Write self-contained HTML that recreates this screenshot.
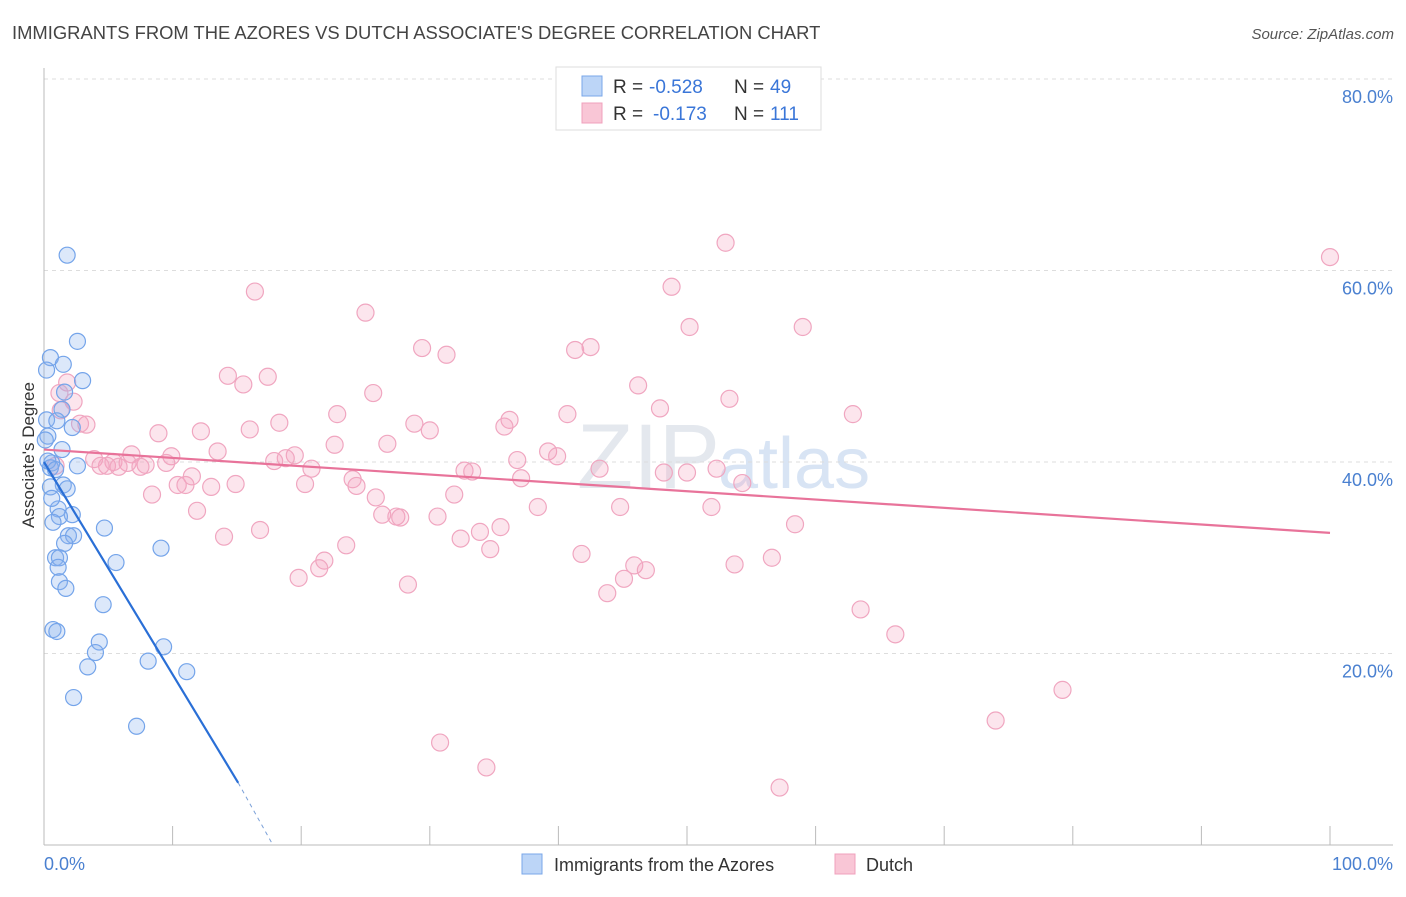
<!DOCTYPE html>
<html><head><meta charset="utf-8"><style>
body{margin:0;background:#fff;font-family:"Liberation Sans",sans-serif;}
svg text{font-family:"Liberation Sans",sans-serif;}
</style></head><body>
<svg id="chart" width="1406" height="892">
<text x="12" y="39" font-size="18.4" fill="#444">IMMIGRANTS FROM THE AZORES VS DUTCH ASSOCIATE'S DEGREE CORRELATION CHART</text>
<text x="1394" y="39" font-size="15" fill="#555" font-style="italic" text-anchor="end">Source: ZipAtlas.com</text>
<text x="720" y="488" font-size="92" fill="#e4e8ee" text-anchor="end" font-family="Liberation Serif">ZIP</text>
<text x="718" y="488" font-size="72" fill="#d8e4f4">atlas</text>
<text transform="translate(34,455) rotate(-90)" font-size="17" fill="#333" text-anchor="middle">Associate's Degree</text>
<g id="grid"></g><g id="axes"></g><g id="pts"></g><g id="lines"></g>
<g>
<rect x="556" y="67" width="265" height="63" fill="#fff" stroke="#ddd"/>
<rect x="582" y="76" width="20" height="20" fill="#bcd5f7" stroke="#7aa7e8"/>
<rect x="582" y="103" width="20" height="20" fill="#f9c6d6" stroke="#f0a0bc"/>
<g font-size="19" fill="#333">
<text x="613" y="93">R =</text><text x="649" y="93" fill="#3a76d8">-0.528</text><text x="734" y="93">N =</text><text x="770" y="93" fill="#3a76d8">49</text></g>
<g font-size="19" fill="#333">
<text x="613" y="120">R =</text><text x="653" y="120" fill="#3a76d8">-0.173</text><text x="734" y="120">N =</text><text x="770" y="120" fill="#3a76d8">111</text></g>
</g>
<g>
<rect x="522" y="854" width="20" height="20" fill="#bcd5f7" stroke="#7aa7e8"/>
<text x="554" y="871" font-size="18" fill="#333">Immigrants from the Azores</text>
<rect x="835" y="854" width="20" height="20" fill="#f9c6d6" stroke="#f0a0bc"/>
<text x="866" y="871" font-size="18" fill="#333">Dutch</text>
</g>
</svg>
<script>
const yTicks=[20,40,60,80];
const yTickLabels=["20.0%","40.0%","60.0%","80.0%"];
const xTickVals=[0,10,20,30,40,50,60,70,80,90,100];
const azoresX=[1.8,2.6,0.5,1.5,0.2,3.0,1.6,1.4,0.2,1.0,2.2,0.3,1.4,0.6,2.6,0.5,1.5,1.8,0.5,1.1,2.2,1.2,0.7,4.7,1.9,2.3,1.6,9.1,0.9,1.2,1.1,5.6,1.2,1.7,4.6,0.7,1.0,4.3,4.0,9.3,8.1,3.4,11.1,2.3,7.2,0.3,0.6,0.1,0.9];
const azoresY=[61.6,52.6,50.9,50.2,49.6,48.5,47.3,45.5,44.4,44.3,43.6,42.7,41.3,39.9,39.6,39.4,37.6,37.2,37.4,35.1,34.5,34.3,33.7,33.1,32.3,32.3,31.5,31.0,30.0,30.0,29.0,29.5,27.5,26.8,25.1,22.5,22.3,21.2,20.1,20.7,19.2,18.6,18.1,15.4,12.4,40.1,36.2,42.3,39.2];
const dutchX=[100,53.0,16.4,48.8,25.0,50.2,59.0,29.4,31.3,41.3,42.5,14.3,17.4,15.5,1.8,1.2,25.6,46.2,53.3,2.3,1.3,47.9,40.7,62.9,22.8,3.3,2.8,18.3,28.8,36.2,35.8,30.0,16.0,12.2,8.9,26.7,22.6,13.5,39.2,39.9,6.8,9.9,19.5,18.8,17.9,3.9,5.4,6.5,7.9,4.9,5.8,4.4,7.5,9.5,0.9,20.8,36.8,32.7,33.3,43.2,48.2,50.0,52.3,11.5,24.0,24.3,37.1,10.4,11.0,14.9,13.0,20.3,54.3,8.4,25.8,31.9,11.9,38.4,44.8,51.9,26.3,27.4,27.7,30.6,35.5,33.9,58.4,16.8,14.0,32.4,23.5,34.7,41.8,21.8,21.4,56.6,45.9,46.8,53.7,45.1,19.8,28.3,43.8,63.5,66.2,79.2,74.0,30.8,34.4,57.2];
const dutchY=[61.4,62.9,57.8,58.3,55.6,54.1,54.1,51.9,51.2,51.7,52.0,49.0,48.9,48.1,48.3,47.2,47.2,48.0,46.6,46.3,45.4,45.6,45.0,45.0,45.0,43.9,44.0,44.1,44.0,44.4,43.7,43.3,43.4,43.2,43.0,41.9,41.8,41.1,41.1,40.6,40.8,40.6,40.7,40.4,40.1,40.3,40.0,39.9,39.7,39.6,39.5,39.6,39.5,39.9,39.6,39.3,40.2,39.1,39.0,39.3,38.9,38.9,39.3,38.5,38.2,37.5,38.3,37.6,37.6,37.7,37.4,37.7,37.8,36.6,36.3,36.6,34.9,35.3,35.3,35.3,34.5,34.3,34.2,34.3,33.2,32.7,33.5,32.9,32.2,32.0,31.3,30.9,30.4,29.7,28.9,30.0,29.2,28.7,29.3,27.8,27.9,27.2,26.3,24.6,22.0,16.2,13.0,10.7,8.1,6.0];
const trendAzores=[0,40.0,15.1,6.5,17.8,0];
const trendDutch=[0,41.3,100,32.6];
const NS="http://www.w3.org/2000/svg";
const X=v=>44+v*12.86, Y=v=>845-v*9.575;
function mk(tag,parent,attrs){const e=document.createElementNS(NS,tag);for(const k in attrs)e.setAttribute(k,attrs[k]);document.getElementById(parent).appendChild(e);return e;}
yTicks.forEach((t,i)=>{
 const l=mk('line','grid',{x1:44,x2:1393,y1:Y(t),y2:Y(t),stroke:'#ddd','stroke-dasharray':'4,4'});
 
 
 const tx=mk('text','axes',{x:1393,y:Y(t)+24,'font-size':18,fill:'#4a80d0','text-anchor':'end'});
 tx.textContent=yTickLabels[i];
 
 
});
const ax=mk('line','axes',{x1:44,x2:1393,y1:845,y2:845,stroke:'#bbb'});


const ay=mk('line','axes',{x1:44,x2:44,y1:68,y2:845,stroke:'#bbb'});


xTickVals.forEach(v=>{
 const t=mk('line','axes',{x1:X(v),x2:X(v),y1:826,y2:845,stroke:'#bbb'});
 
 
});
const xl0=mk('text','axes',{x:44,y:870,'font-size':18,fill:'#4a80d0'});xl0.textContent='0.0%';


const xl1=mk('text','axes',{x:1393,y:870,'font-size':18,fill:'#4a80d0','text-anchor':'end'});xl1.textContent='100.0%';


dutchX.forEach((x,i)=>{
 const c=mk('circle','pts',{cx:X(x),cy:Y(dutchY[i]),r:8.5,fill:'rgba(244,160,190,0.28)',stroke:'#f0a6c0','stroke-width':1.2});
 
 
});
azoresX.forEach((x,i)=>{
 const c=mk('circle','pts',{cx:X(x),cy:Y(azoresY[i]),r:8,fill:'rgba(140,180,240,0.3)',stroke:'#74a4ea','stroke-width':1.2});
 
 
});
const pl=mk('line','lines',{x1:X(trendDutch[0]),y1:Y(trendDutch[1]),x2:X(trendDutch[2]),y2:Y(trendDutch[3]),stroke:'#e8739a','stroke-width':2.2});


const bl=mk('line','lines',{x1:X(trendAzores[0]),y1:Y(trendAzores[1]),x2:X(trendAzores[2]),y2:Y(trendAzores[3]),stroke:'#2a6fd6','stroke-width':2.2});


const bd=mk('line','lines',{x1:X(trendAzores[2]),y1:Y(trendAzores[3]),x2:X(trendAzores[4]),y2:Y(trendAzores[5]),stroke:'#7aa0d8','stroke-width':1,'stroke-dasharray':'4,4'});


</script>
</body></html>
